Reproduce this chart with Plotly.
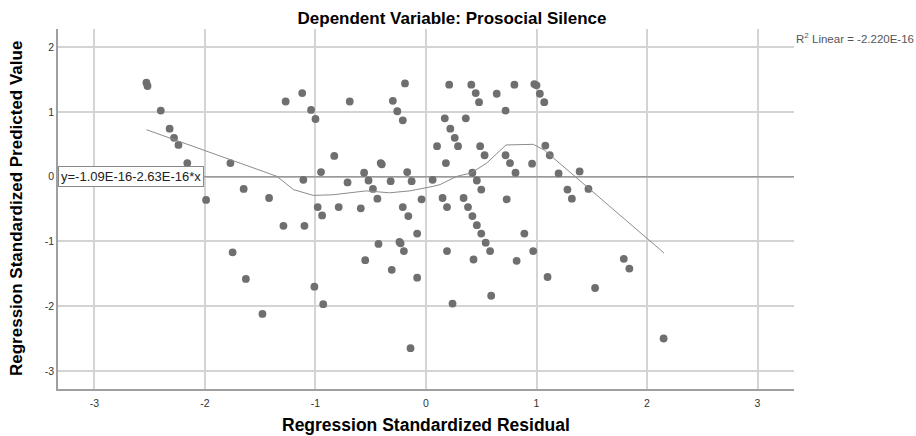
import plotly.graph_objects as go

# Scatter points: regression standardized residual (x) vs standardized predicted value (y)
resid = [-2.53, -2.52, -2.40, -2.32, -2.28, -2.24, -2.16, -1.99, -1.77, -1.65,
         -1.42, -1.27, -1.12, -1.04, -1.00, -1.11, -0.95, -0.98, -0.94, -0.83,
         -0.79, -0.69, -0.71, -0.59, -0.56, -0.52, -0.48, -0.44, -0.41, -0.40,
         -0.32, -0.30, -0.26, -0.21, -0.19, -0.17, -0.13, -0.21, -0.16, -0.04,
         0.06, 0.15, 0.19, 0.10, 0.18, 0.21, 0.17, 0.22, 0.26, 0.29,
         0.41, 0.45, 0.48, 0.36, 0.64, 0.80, 0.72, 0.98, 1.00, 1.03,
         1.07, 0.49, 0.53, 0.72, 0.76, 0.81, 0.96, 1.08, 1.12, 0.42,
         0.46, 0.50, 0.34, 0.38, 0.42, 0.73, 1.20, 1.39, 1.28, 1.32,
         1.47, -1.29, -1.10, -0.08, -0.43, -0.24, -0.23, -0.20, -1.75, -0.55,
         -0.31, -0.08, -1.63, -1.01, -0.93, -1.48, -0.14, 0.19, 0.24, 0.46,
         0.50, 0.54, 0.58, 0.43, 0.59, 0.89, 0.82, 0.97, 1.10, 1.53,
         1.79, 1.84, 2.15]
pred = [1.45, 1.40, 1.02, 0.74, 0.60, 0.49, 0.21, -0.36, 0.21, -0.19,
        -0.33, 1.16, 1.29, 1.03, 0.89, -0.05, 0.07, -0.47, -0.60, 0.32,
        -0.47, 1.16, -0.09, -0.49, 0.06, -0.06, -0.19, -0.34, 0.21, 0.19,
        -0.07, 1.17, 1.01, 0.87, 1.44, 0.07, -0.07, -0.47, -0.61, -0.35,
        -0.05, -0.33, -0.47, 0.47, 0.21, 1.42, 0.90, 0.74, 0.60, 0.47,
        1.42, 1.29, 1.15, 0.90, 1.28, 1.42, 1.02, 1.43, 1.41, 1.28,
        1.15, 0.47, 0.33, 0.33, 0.21, 0.06, 0.20, 0.48, 0.33, 0.06,
        -0.06, -0.20, -0.33, -0.47, -0.61, -0.35, 0.05, 0.08, -0.20, -0.34,
        -0.19, -0.76, -0.76, -0.88, -1.04, -1.01, -1.03, -1.15, -1.17, -1.29,
        -1.44, -1.56, -1.58, -1.70, -1.97, -2.12, -2.65, -1.15, -1.96, -0.75,
        -0.88, -1.02, -1.15, -1.28, -1.84, -0.88, -1.30, -1.15, -1.55, -1.72,
        -1.27, -1.42, -2.50]

# Loess fit curve
fit_x = [-2.53, -1.35, -1.20, -1.02, -0.84, -0.54, -0.33, -0.145, 0.066, 0.127,
         0.28, 0.41, 0.55, 0.724, 0.971, 1.07, 2.154]
fit_y = [0.725, 0.005, -0.20, -0.29, -0.28, -0.22, -0.25, -0.22, -0.15, -0.123,
         0.005, 0.057, 0.21, 0.489, 0.499, 0.41, -1.18]

# Linear fit
lin_x = [-3.33, 3.33]
lin_y = [-1.09e-16 - 2.63e-16 * v for v in lin_x]

x_ticks = [-3, -2, -1, 0, 1, 2, 3]
y_ticks = [-3, -2, -1, 0, 1, 2]

FONT = "Liberation Sans, Arial, sans-serif"

fig = go.Figure()
fig.add_trace(go.Scatter(x=lin_x, y=lin_y, mode="lines",
                         line=dict(color="#9a9a9a", width=1.5),
                         hoverinfo="skip", showlegend=False))
fig.add_trace(go.Scatter(x=resid, y=pred, mode="markers",
                         marker=dict(color="#6f6f6f", size=7.8, line=dict(width=0)),
                         showlegend=False))
fig.add_trace(go.Scatter(x=fit_x, y=fit_y, mode="lines",
                         line=dict(color="#8c8c8c", width=1),
                         hoverinfo="skip", showlegend=False))

fig.update_layout(
    width=916, height=436,
    margin=dict(l=58, r=122, t=29, b=47, autoexpand=False),
    paper_bgcolor="white", plot_bgcolor="white",
    font=dict(family=FONT, color="#333333", size=10),
    title=dict(text="<b>Dependent Variable: Prosocial Silence</b>",
               x=452 / 916, xanchor="center", xref="container",
               y=1 - 18 / 436, yanchor="middle", yref="container",
               font=dict(size=17, color="#000000", family=FONT)),
    xaxis=dict(range=[-3.33, 3.33], tickvals=x_ticks, ticktext=[str(t) for t in x_ticks],
               showgrid=True, gridcolor="#d4d4d4", gridwidth=1.5, zeroline=False,
               showline=True, linecolor="#a0a0a0", linewidth=1.5, automargin=False,
               ticks="", ticklen=0, ticklabelstandoff=4,
               tickfont=dict(size=10.5, color="#333333")),
    yaxis=dict(range=[-3.28, 2.28], tickvals=y_ticks, ticktext=[str(t) for t in y_ticks],
               showgrid=True, gridcolor="#d4d4d4", gridwidth=1.5, zeroline=False,
               showline=True, linecolor="#a0a0a0", linewidth=1.5, automargin=False,
               ticks="", ticklen=0, tickfont=dict(size=10.5, color="#333333")),
)

# Axis titles
fig.add_annotation(x=0.5, xref="paper", y=0, yref="paper", yshift=-36,
                   xanchor="center", yanchor="middle", showarrow=False,
                   text="<b>Regression Standardized Residual</b>",
                   font=dict(size=17.5, color="#000000", family=FONT))
fig.add_annotation(x=0, xref="paper", y=0.5, yref="paper", xshift=-42,
                   xanchor="center", yanchor="middle", showarrow=False, textangle=-90,
                   text="<b>Regression Standardized Predicted Value</b>",
                   font=dict(size=17, color="#000000", family=FONT))

fig.add_annotation(x=0, xref="paper", y=0, yref="y", xanchor="left", yanchor="middle",
                   text="y=-1.09E-16-2.63E-16*x", showarrow=False,
                   font=dict(size=13, color="#222222", family=FONT),
                   bgcolor="white", bordercolor="#888888", borderwidth=1, borderpad=2)
fig.add_annotation(x=1.0, xref="paper", y=1 - 9 / 360, yref="paper",
                   xanchor="left", yanchor="middle", xshift=0,
                   text="R<sup>2</sup> Linear = -2.220E-16", showarrow=False,
                   font=dict(size=11.5, color="#555555", family=FONT))

fig.write_html("out.html", config={"displayModeBar": False},
               post_script="document.body.style.margin='0';")
